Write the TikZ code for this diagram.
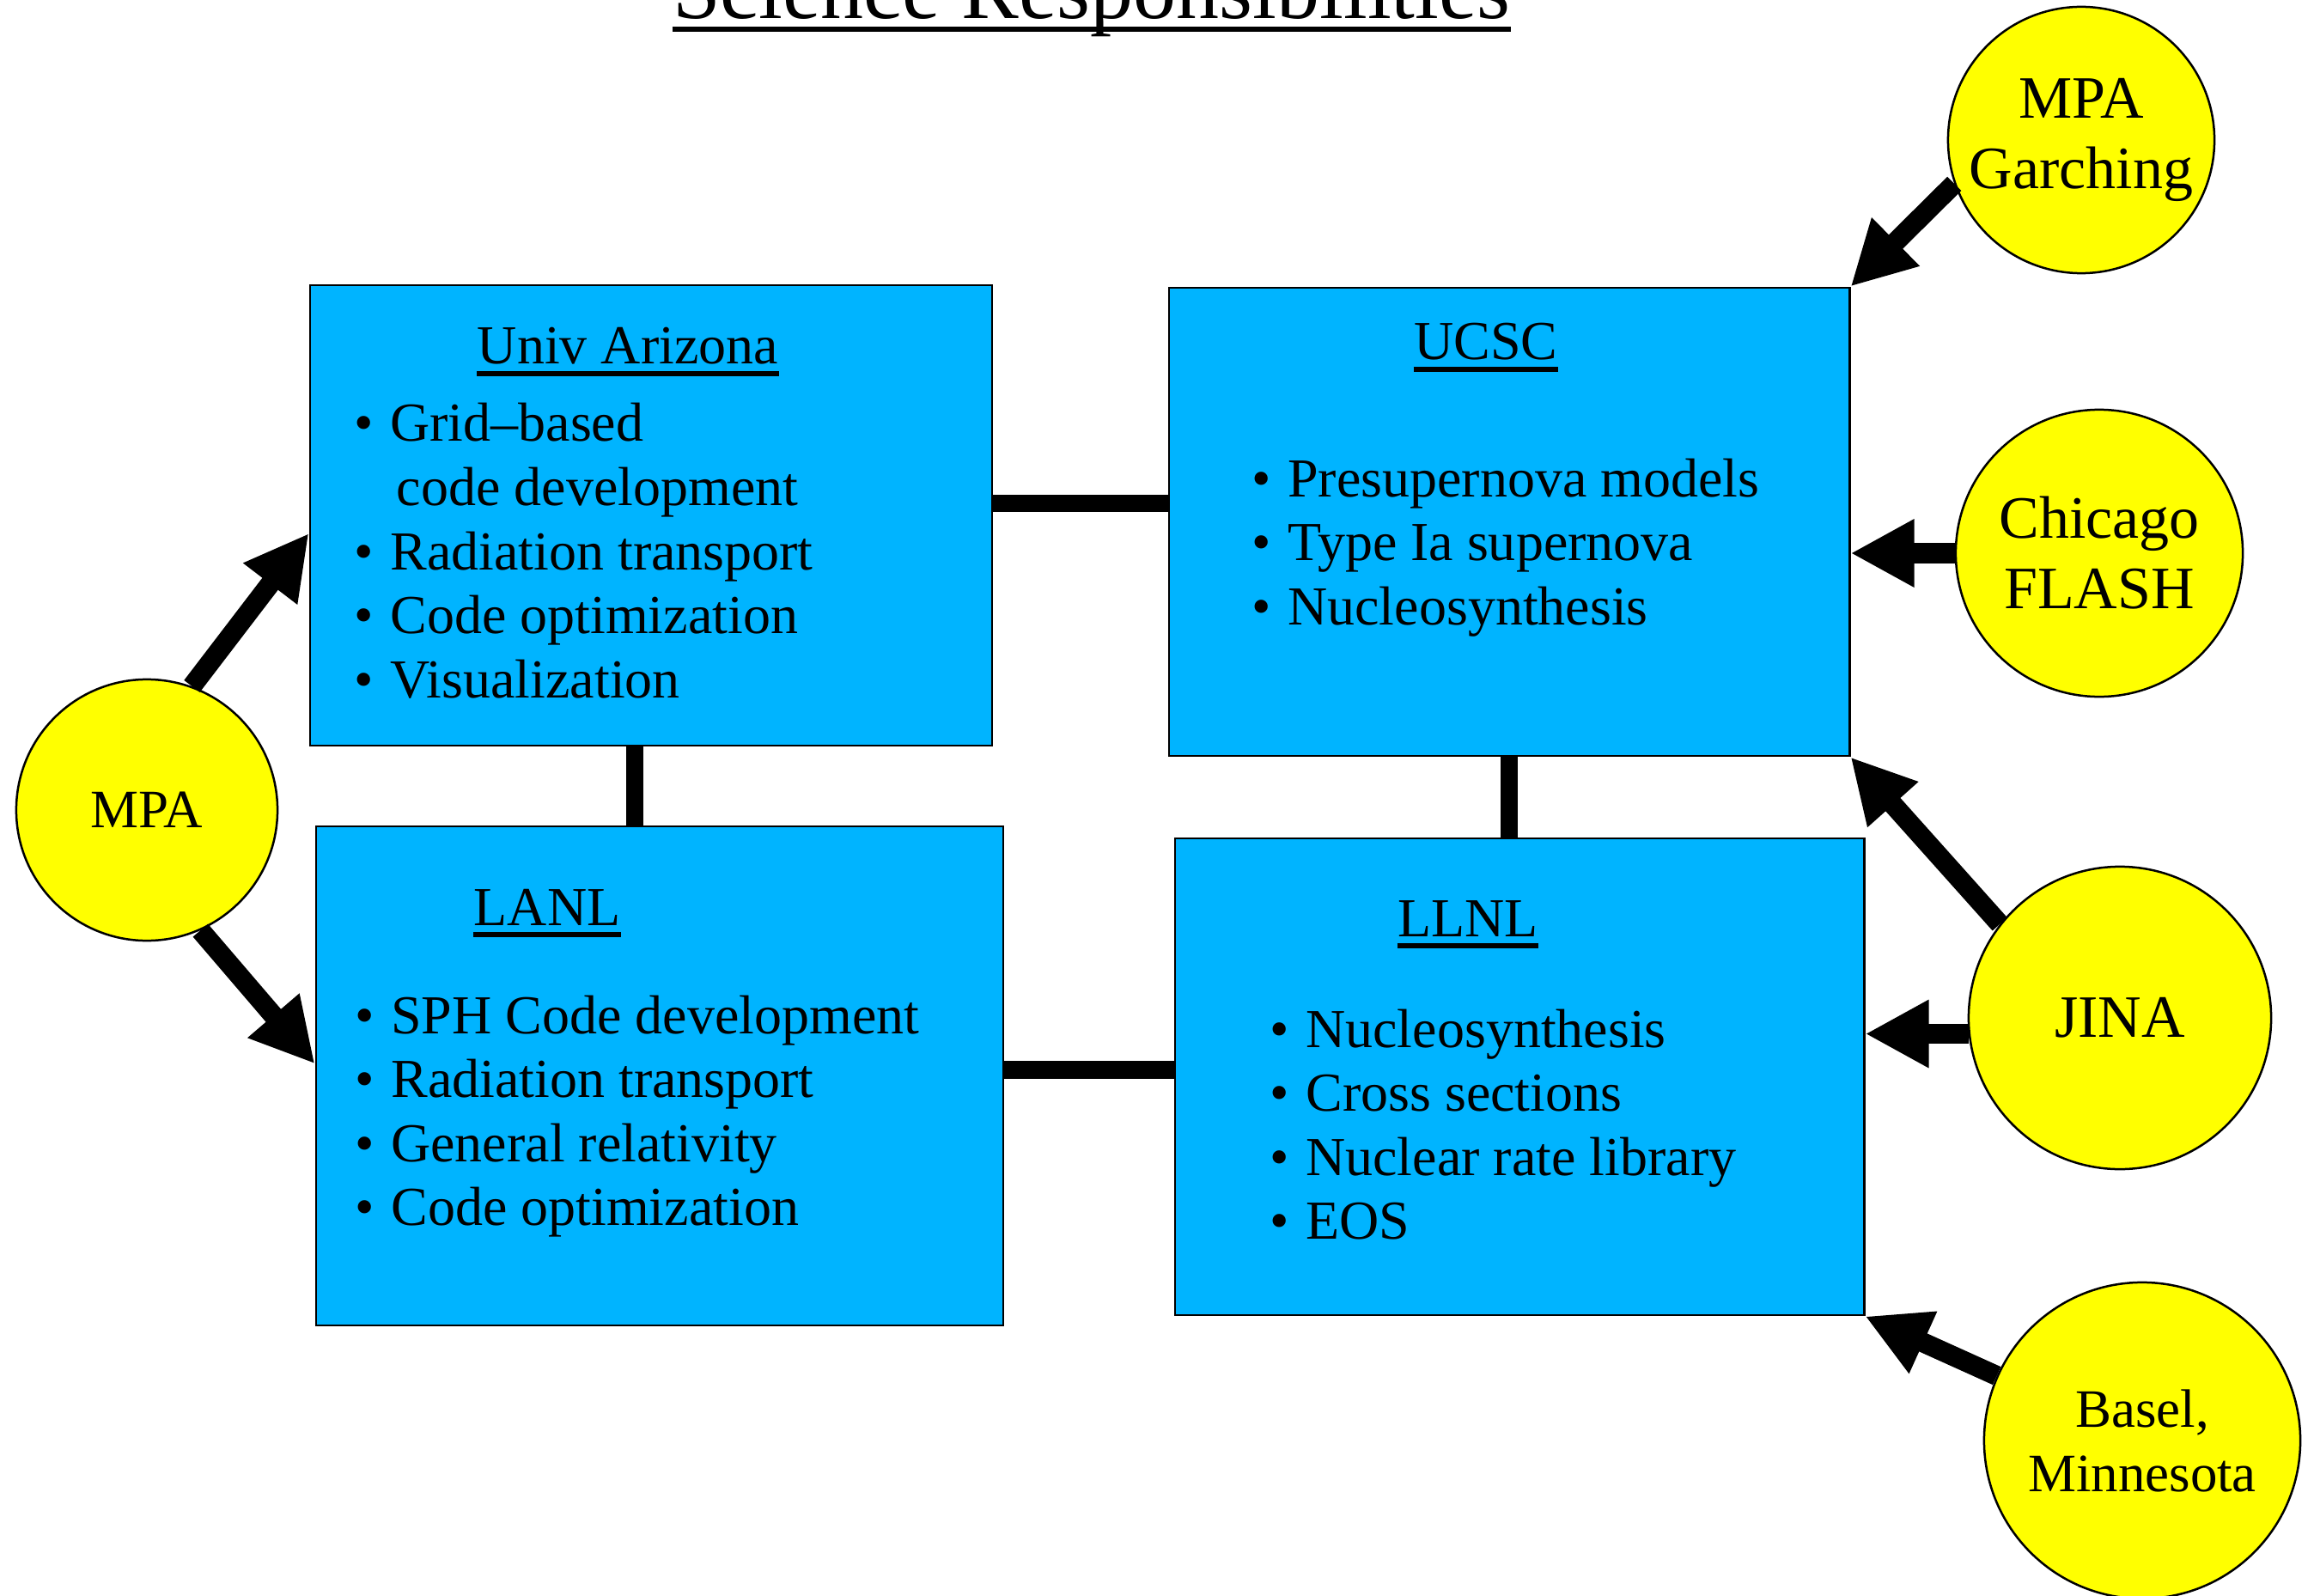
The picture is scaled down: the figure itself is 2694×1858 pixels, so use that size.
\documentclass[tikz,border=0pt]{standalone}
\usepackage{fontspec}
\setmainfont{Liberation Serif}
\usetikzlibrary{arrows.meta}
\definecolor{boxblue}{RGB}{0,180,255}
\definecolor{orgyellow}{RGB}{255,255,0}
\newcommand{\myBodyFont}{\fontsize{18.2}{21.2}\selectfont}
\begin{document}
\begin{tikzpicture}[x=0.01cm, y=-0.01cm,
  box/.style={rectangle, draw=black, line width=0.025cm, fill=boxblue, inner sep=0},
  org/.style={circle, draw=black, line width=0.025cm, fill=orgyellow, inner sep=0, align=center, font=\fontsize{19.9}{23.3}\selectfont},
  hdr/.style={anchor=base, inner sep=0, font=\myBodyFont},
  lst/.style={anchor=base west, inner sep=0, font=\myBodyFont},
  uline/.style={line width=0.06cm},
  link/.style={line width=0.2cm},
  arr/.style={line width=0.23cm, -{Triangle[length=0.74cm,width=0.74cm]}}
]
\useasboundingbox (0,0) rectangle (2694,1858);

% title
\node[anchor=base, inner sep=0, font=\fontsize{28.45}{34}\selectfont] (title) at (1271,22) {Science Responsibilities};
\draw[line width=0.05cm] ([yshift=-0.12cm]title.base west) -- ([yshift=-0.12cm]title.base east);

% boxes
\node[box, minimum width=7.94cm, minimum height=5.36cm] (ua) at (758,600) {};
\node[box, minimum width=7.92cm, minimum height=5.45cm] (ucsc) at (1757,607.5) {};
\node[box, minimum width=8.00cm, minimum height=5.81cm] (lanl) at (768,1252.5) {};
\node[box, minimum width=8.02cm, minimum height=5.55cm] (llnl) at (1769,1253.5) {};

% circles
\node[org, minimum size=3.04cm, font=\fontsize{17.9}{21}\selectfont] (mpa) at (171,943) {MPA};
\node[org, minimum size=3.10cm] (garch) at (2423,163) {MPA\\Garching};
\node[org, minimum size=3.34cm] (chi) at (2444,644) {Chicago\\FLASH};
\node[org, minimum size=3.52cm] (jina) at (2468,1185) {JINA};
\node[org, minimum size=3.68cm, font=\fontsize{17.9}{21.3}\selectfont] (basel) at (2494,1677) {Basel,\\Minnesota};

% headers
\node[hdr] (uah) at (731,424) {Univ Arizona};
\node[hdr] (ucsch) at (1730,419) {UCSC};
\node[hdr] (lanlh) at (637,1077) {LANL};
\node[hdr] (llnlh) at (1709,1090) {LLNL};
\foreach \h in {uah,ucsch,lanlh,llnlh}
  \draw[uline] ([yshift=-0.11cm]\h.base west) -- ([yshift=-0.11cm]\h.base east);

% lists
\node[lst] (ual) at (412,514) {\begin{tabular}[t]{@{}l@{\hspace{0.3em}}l@{}}
• & Grid–based\\
  & \hspace{0.12em}code development\\
• & Radiation transport\\
• & Code optimization\\
• & Visualization
\end{tabular}};
\node[lst] (ucscl) at (1457,578) {\begin{tabular}[t]{@{}l@{\hspace{0.3em}}l@{}}
• & Presupernova models\\
• & Type Ia supernova\\
• & Nucleosynthesis
\end{tabular}};
\node[lst] (lanll) at (413,1203) {\begin{tabular}[t]{@{}l@{\hspace{0.3em}}l@{}}
• & SPH Code development\\
• & Radiation transport\\
• & General relativity\\
• & Code optimization
\end{tabular}};
\node[lst] (llnll) at (1478,1219) {\begin{tabular}[t]{@{}l@{\hspace{0.3em}}l@{}}
• & Nucleosynthesis\\
• & Cross sections\\
• & Nuclear rate library\\
• & EOS
\end{tabular}};

% links between boxes
\draw[link] (ua.2) -- (ua.2 -| ucsc.west);
\draw[link] (ua.266) -- (ua.266 |- lanl.north);
\draw[link] (ucsc.south) -- (ucsc.south |- llnl.north);
\draw[link] (lanl.1.2) -- (lanl.1.2 -| llnl.west);

% arrows
\draw[arr] (mpa.70) -- (ua.183);
\draw[arr] (mpa.294) -- (lanl.178);
\draw[arr] (garch.199) -- (ucsc.north east);
\draw[arr] (chi.west) -- (chi.west -| ucsc.east);
\draw[arr] (jina.142) -- (ucsc.south east);
\draw[arr] (jina.186) -- (jina.186 -| llnl.east);
\draw[arr] (basel.156) -- (llnl.south east);
\end{tikzpicture}
\end{document}
